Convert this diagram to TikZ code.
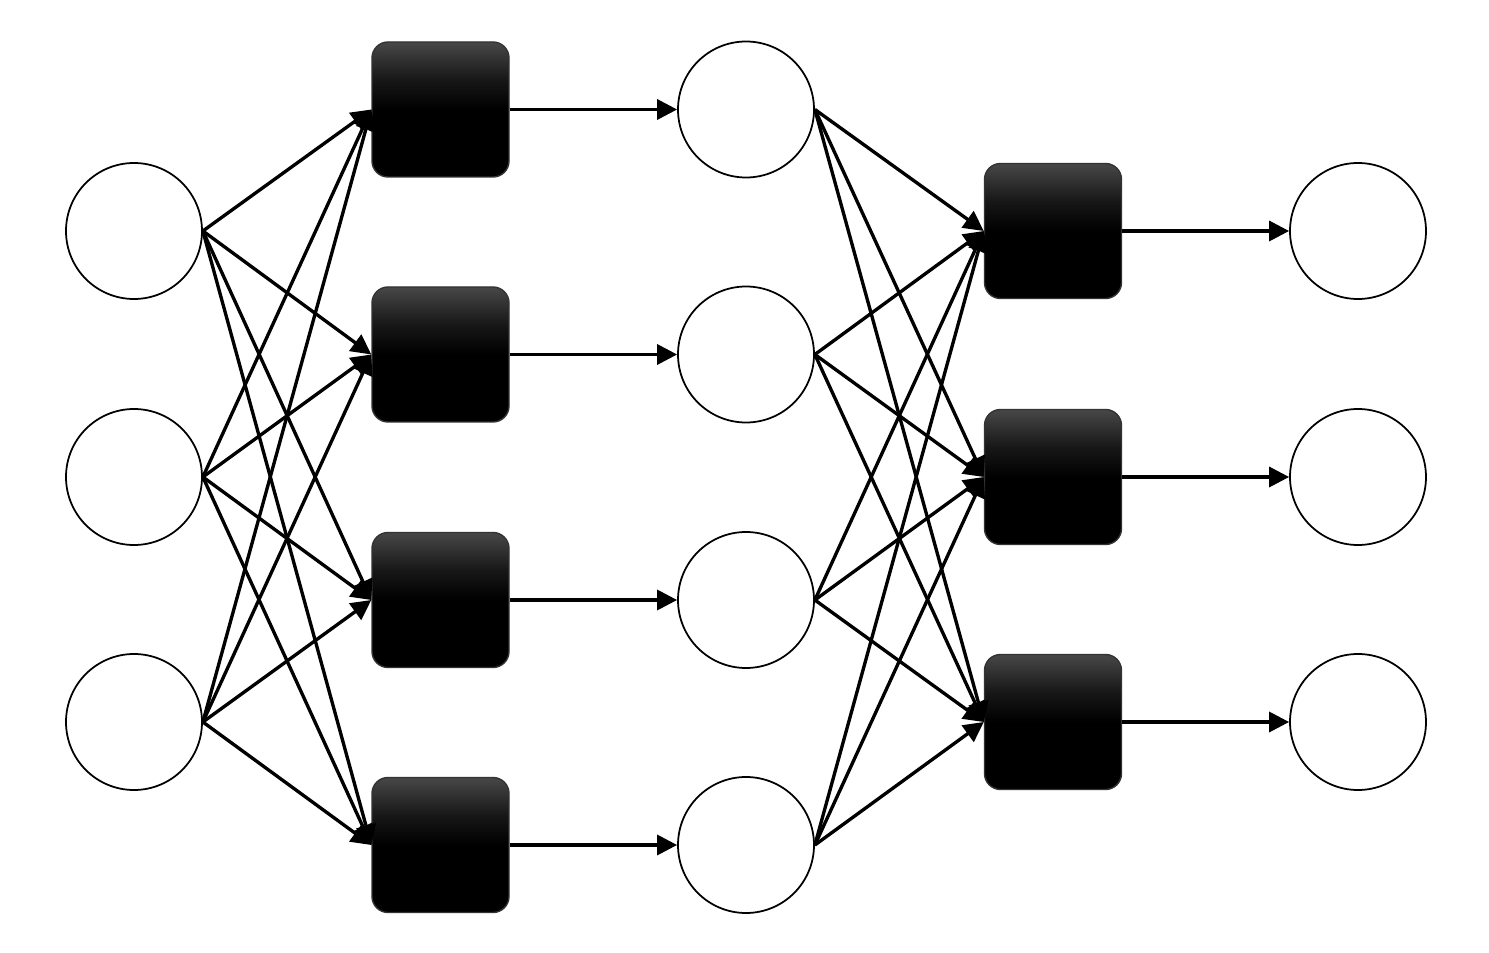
\documentclass[tikz,border=0pt]{standalone}
\usepackage{tikz}
\usetikzlibrary{shapes, arrows.meta, positioning}

\pgfdeclareverticalshading{gateshade}{100bp}{
  color(0bp)=(black); color(50bp)=(black);
  color(61bp)=(black!91); color(75bp)=(black!72); color(100bp)=(black!72)}

\begin{document}
\begin{tikzpicture}[
  unit/.style={draw, circle, line width=0.5pt, fill=white, minimum size=1.36cm, inner sep=0pt},
  gate/.style={draw=black!80, line width=0.4pt, rounded corners=0.16cm, minimum width=1.37cm, minimum height=1.35cm, inner sep=0pt,
    shading=gateshade},
  link/.style={line width=0.95pt, -{Triangle[length=2mm, width=2mm]}}
]
  \useasboundingbox (0, 0) rectangle (14.89, 9.52);

  % Input units
  \node[unit] (in1) at (1.34, 7.21) {};
  \node[unit] (in2) at (1.34, 4.75) {};
  \node[unit] (in3) at (1.34, 2.30) {};

  % First gates
  \node[gate] (ga1) at (4.405, 8.425) {};
  \node[gate] (ga2) at (4.405, 5.975) {};
  \node[gate] (ga3) at (4.405, 3.52) {};
  \node[gate] (ga4) at (4.405, 1.07) {};

  % Hidden units
  \node[unit] (hid1) at (7.46, 8.425) {};
  \node[unit] (hid2) at (7.46, 5.975) {};
  \node[unit] (hid3) at (7.46, 3.52) {};
  \node[unit] (hid4) at (7.46, 1.07) {};

  % Second gates
  \node[gate] (gb1) at (10.53, 7.21) {};
  \node[gate] (gb2) at (10.53, 4.75) {};
  \node[gate] (gb3) at (10.53, 2.30) {};

  % Output units
  \node[unit] (out1) at (13.58, 7.21) {};
  \node[unit] (out2) at (13.58, 4.75) {};
  \node[unit] (out3) at (13.58, 2.30) {};

  % Input -> first gates
  \foreach \i in {1,2,3} {
    \foreach \j in {1,2,3,4} {
      \draw[link] (in\i.east) -- (ga\j.west);
    }
  }

  % First gates -> hidden
  \foreach \j in {1,2,3,4} {
    \draw[link] (ga\j.east) -- (hid\j.west);
  }

  % Hidden -> second gates
  \foreach \j in {1,2,3,4} {
    \foreach \k in {1,2,3} {
      \draw[link] (hid\j.east) -- (gb\k.west);
    }
  }

  % Second gates -> output
  \foreach \k in {1,2,3} {
    \draw[link] (gb\k.east) -- (out\k.west);
  }
\end{tikzpicture}
\end{document}
